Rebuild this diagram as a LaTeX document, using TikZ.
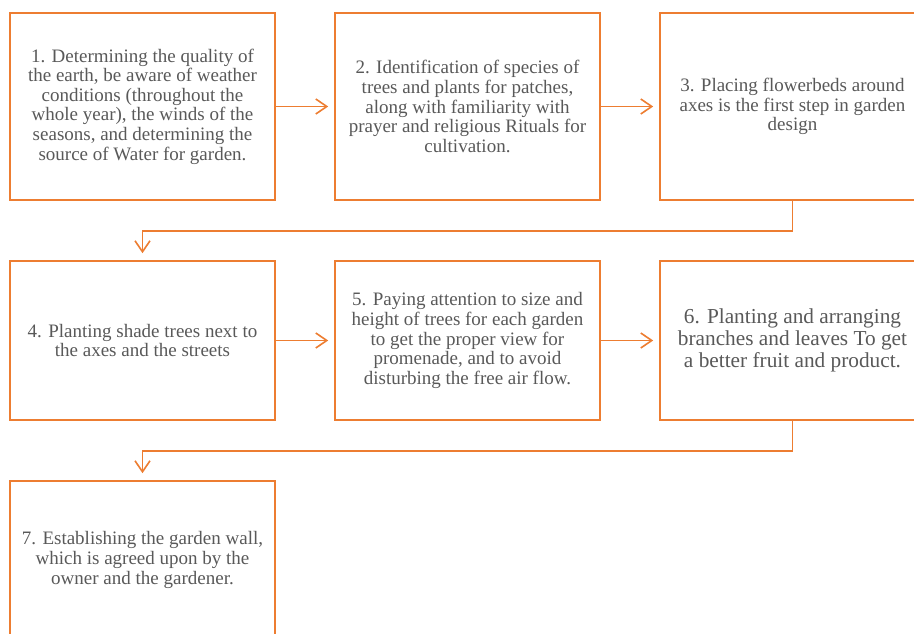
\documentclass[tikz,border=0pt]{standalone}
\usepackage{fontspec}
\setmainfont{Liberation Serif}
\usetikzlibrary{arrows.meta}
\definecolor{borange}{HTML}{ED7D31}
\definecolor{tgray}{HTML}{595959}
\begin{document}
\begin{tikzpicture}[x=1pt,y=-1pt,
  stepbox/.style={draw=borange,line width=1.6pt,rectangle,minimum width=265pt,
    align=center,text=tgray,font=\fontsize{19}{19.6}\selectfont,inner sep=0pt},
  bigtext/.style={font=\fontsize{21.3}{21.8}\selectfont},
  link/.style={draw=borange,line width=1.6pt,-{Straight Barb[length=11pt,width=15pt,line width=1.6pt]},shorten >=6pt}]
\fill[white] (0,0) rectangle (914,634);
\clip (0,0) rectangle (914,634);
\node[stepbox,minimum height=187pt] (b1) at (142.5,106.5) {1. Determining the quality of\\the earth, be aware of weather\\conditions (throughout the\\whole year), the winds of the\\seasons, and determining the\\source of Water for garden.};
\node[stepbox,minimum height=187pt] (b2) at (467.5,106.5) {2. Identification of species of\\trees and plants for patches,\\along with familiarity with\\prayer and religious Rituals for\\cultivation.};
\node[stepbox,minimum height=187pt] (b3) at (792.5,106.5) {3. Placing flowerbeds around\\axes is the first step in garden\\design};
\node[stepbox,minimum height=159pt] (b4) at (142.5,340.5) {4. Planting shade trees next to\\the axes and the streets};
\node[stepbox,minimum height=159pt] (b5) at (467.5,340.5) {5. Paying attention to size and\\height of trees for each garden\\to get the proper view for\\promenade, and to avoid\\disturbing the free air flow.};
\node[stepbox,bigtext,minimum height=159pt] (b6) at (792.5,340.5) {6. Planting and arranging\\branches and leaves To get\\a better fruit and product.};
\node[stepbox,minimum height=158pt] (b7) at (142.5,560) {7. Establishing the garden wall,\\which is agreed upon by the\\owner and the gardener.};
\coordinate (c1) at (792.5,231);
\coordinate (c2) at (142.5,231);
\coordinate (c3) at (792.5,451);
\coordinate (c4) at (142.5,451);
\draw[link] (b1) -- (b2);
\draw[link] (b2) -- (b3);
\draw[link,shorten >=7pt] (b3.south) -- (c1) -- (c2) -- (b4.north);
\draw[link] (b4) -- (b5);
\draw[link] (b5) -- (b6);
\draw[link,shorten >=7pt] (b6.south) -- (c3) -- (c4) -- (b7.north);
\end{tikzpicture}
\end{document}
